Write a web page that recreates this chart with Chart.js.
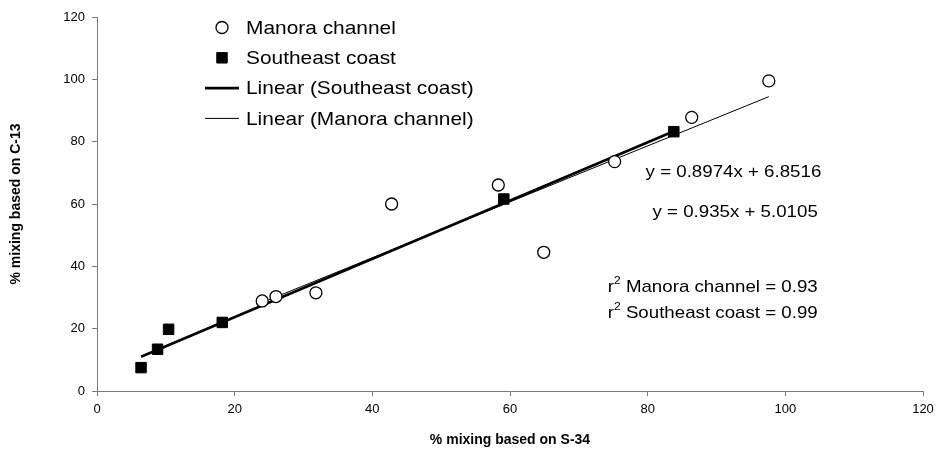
<!DOCTYPE html>
<html>
<head>
<meta charset="utf-8">
<script src="https://cdn.jsdelivr.net/npm/chart.js@4/dist/chart.umd.min.js"></script>
<style>
  html, body { margin: 0; padding: 0; background: #fff; }
</style>
</head>
<body>
<canvas id="chart" width="936" height="455"></canvas>
<script>
'use strict';

// Manora channel samples (open circles)
var manoraX = [24.0, 26.0, 31.8, 42.8, 58.3, 64.9, 75.2, 86.4, 97.6];
var manoraY = [28.9, 30.3, 31.5, 60.0, 66.1, 44.5, 73.6, 87.8, 99.5];

// Southeast coast samples (filled squares)
var coastX = [6.4, 8.8, 10.4, 18.2, 59.1, 83.8];
var coastY = [7.5, 13.4, 19.8, 22.0, 61.6, 83.2];

// trend line coefficients as printed on the chart
var fitManora = { slope: 0.8974, intercept: 6.8516, r2: 0.93 };
var fitCoast  = { slope: 0.935,  intercept: 5.0105, r2: 0.99 };

var xTicks = [0, 20, 40, 60, 80, 100, 120];
var yTicks = [0, 20, 40, 60, 80, 100, 120];

var legendLabels = ['Manora channel', 'Southeast coast', 'Linear (Southeast coast)', 'Linear (Manora channel)'];

var FONT = '"Liberation Sans", Arial, sans-serif';
var AXIS_GREY = '#7a7a7a';

function points(xs, ys) {
  return xs.map(function (x, i) { return { x: x, y: ys[i] }; });
}

function trend(xs, fit) {
  var lo = Math.min.apply(null, xs), hi = Math.max.apply(null, xs);
  return [lo, hi].map(function (x) { return { x: x, y: fit.slope * x + fit.intercept }; });
}

function eqText(fit) {
  return 'y = ' + fit.slope + 'x + ' + fit.intercept;
}

// draw text slightly widened, like the stretched original
function wideText(ctx, txt, x, y, px, weight) {
  ctx.save();
  ctx.font = (weight || 'normal') + ' ' + px + 'px ' + FONT;
  ctx.translate(x, y);
  ctx.scale(1.1, 1);
  ctx.fillText(txt, 0, 0);
  var w = ctx.measureText(txt).width * 1.1;
  ctx.restore();
  return w;
}

var overlay = {
  id: 'overlay',
  afterDatasetsDraw: function (chart) {
    var ctx = chart.ctx, ds = chart.data.datasets;
    var xs = chart.scales.x, ys = chart.scales.y;
    ctx.save();
    ctx.fillStyle = '#000';
    ctx.textBaseline = 'middle';
    ctx.textAlign = 'left';

    // legend inside the plot area
    ds.forEach(function (d, i) {
      var cy = 27.5 + i * 30.3;
      if (d.showLine) {
        ctx.beginPath();
        ctx.strokeStyle = d.borderColor;
        ctx.lineWidth = d.borderWidth;
        ctx.moveTo(205, cy);
        ctx.lineTo(239, cy);
        ctx.stroke();
      } else {
        ctx.fillStyle = d.backgroundColor;
        ctx.strokeStyle = d.borderColor;
        ctx.lineWidth = d.borderWidth;
        Chart.helpers.drawPoint(ctx, { pointStyle: d.pointStyle, radius: d.pointRadius, borderWidth: d.borderWidth, rotation: 0 }, 222, cy);
      }
      ctx.fillStyle = '#000';
      wideText(ctx, legendLabels[i], 246, cy + 1, 19);
    });

    // regression equations
    wideText(ctx, eqText(fitManora), xs.getPixelForValue(79.7), ys.getPixelForValue(70.2), 17);
    wideText(ctx, eqText(fitCoast), xs.getPixelForValue(80.7), ys.getPixelForValue(57.4), 17);

    // r-squared notes with superscript 2
    [['Manora channel', fitManora.r2, 33.3], ['Southeast coast', fitCoast.r2, 25.0]].forEach(function (r) {
      var x = xs.getPixelForValue(74.2), y = ys.getPixelForValue(r[2]);
      var w = wideText(ctx, 'r', x, y, 17);
      var w2 = wideText(ctx, '2', x + w, y - 6, 11);
      wideText(ctx, ' ' + r[0] + ' = ' + r[1].toFixed(2), x + w + w2, y, 17);
    });
    ctx.restore();
  }
};

function axis(ticks, title, pad, tickPad) {
  return {
    type: 'linear',
    min: ticks[0],
    max: ticks[ticks.length - 1],
    afterBuildTicks: function (s) { s.ticks = ticks.map(function (v) { return { value: v }; }); },
    ticks: { color: '#000', padding: tickPad, font: { family: FONT, size: 13 } },
    grid: { drawOnChartArea: false, drawTicks: true, tickLength: 5, color: AXIS_GREY },
    border: { color: AXIS_GREY, width: 1 },
    title: { display: true, text: title, color: '#000', padding: pad, font: { family: FONT, size: 14, weight: 'bold' } }
  };
}

var xAxis = axis(xTicks, '% mixing based on S-34', { top: 0, bottom: 6 }, 6);
xAxis.afterFit = function (s) { s.height = 64; s.paddingLeft = 0; s.paddingRight = 0; };
var yAxis = axis(yTicks, '% mixing based on C-13', { top: 8, bottom: 0 }, 7);
yAxis.afterFit = function (s) { s.width = 97; s.paddingTop = 0; s.paddingBottom = 0; };

new Chart(document.getElementById('chart'), {
  type: 'scatter',
  data: {
    datasets: [
      { label: legendLabels[0], data: points(manoraX, manoraY), pointStyle: 'circle', pointRadius: 6,
        backgroundColor: '#fff', borderColor: '#000', borderWidth: 1.3, order: 1 },
      { label: legendLabels[1], data: points(coastX, coastY), pointStyle: 'rect', pointRadius: 7.4,
        backgroundColor: '#000', borderColor: '#000', borderWidth: 1, order: 2 },
      { label: legendLabels[2], data: trend(coastX, fitCoast), showLine: true, pointRadius: 0,
        borderColor: '#000', borderWidth: 2.6, order: 3 },
      { label: legendLabels[3], data: trend(manoraX, fitManora), showLine: true, pointRadius: 0,
        borderColor: '#000', borderWidth: 1, order: 4 }
    ]
  },
  options: {
    responsive: false,
    animation: false,
    devicePixelRatio: 1,
    layout: { padding: { top: 17, right: 13, left: 0, bottom: 0 } },
    plugins: { legend: { display: false }, tooltip: { enabled: false } },
    scales: { x: xAxis, y: yAxis }
  },
  plugins: [overlay]
});
</script>
</body>
</html>
